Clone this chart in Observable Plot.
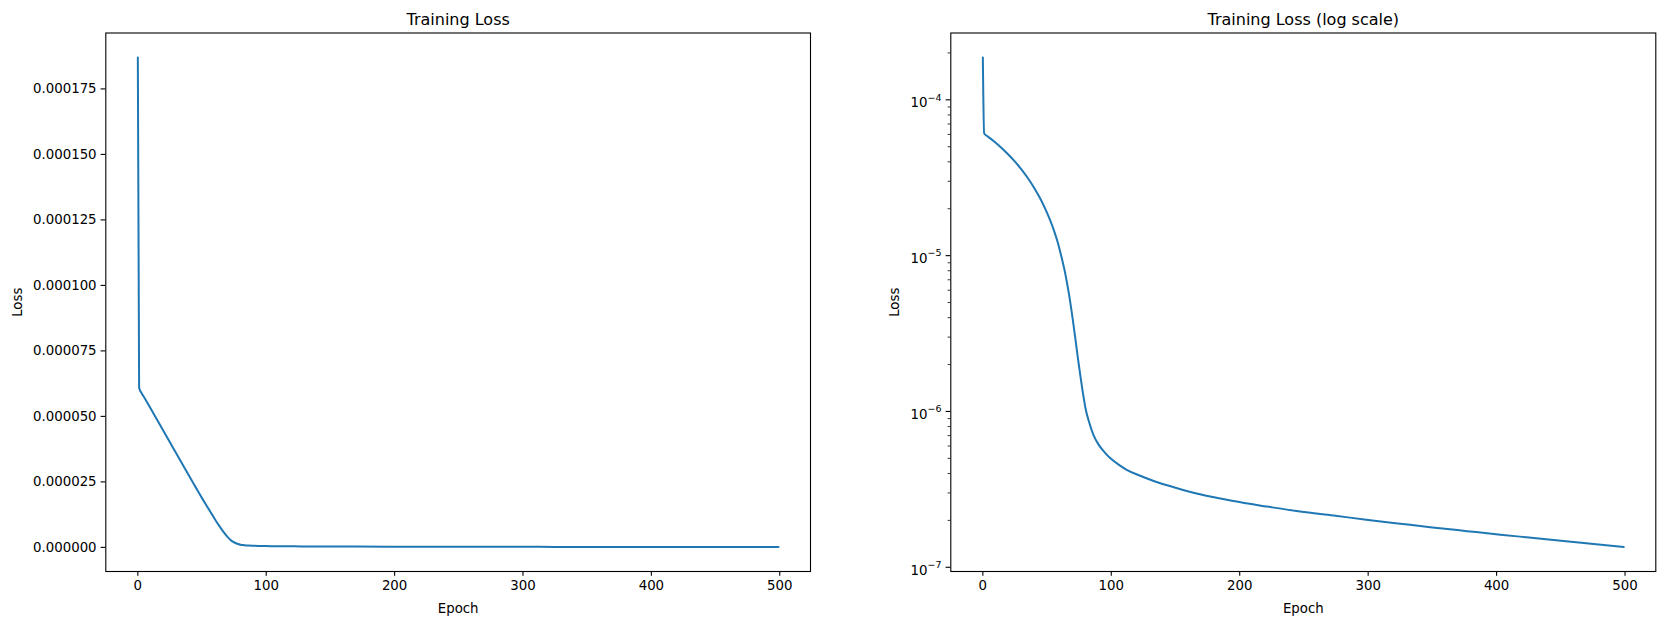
<!DOCTYPE html>
<html><head><meta charset="utf-8">
<script src="https://cdn.jsdelivr.net/npm/d3@7"></script>
<script src="https://cdn.jsdelivr.net/npm/@observablehq/plot@0.6"></script>
<style>
html,body{margin:0;padding:0;background:#fff;}
#wrap{display:flex;width:1665px;height:624px;}
#wrap svg{display:block;}
</style></head><body><div id="wrap"></div>
<script>
// Values
const epochs = [0, 1, 3, 5, 10, 15, 20, 25, 30, 35, 40, 45, 50, 55, 58, 61, 64, 67, 70, 72, 74, 76, 78, 80, 83, 86, 90, 95, 100, 106, 112, 122, 133, 150, 169, 195, 221, 247, 273, 300, 325, 350, 377, 403, 429, 460, 499];
const losses = [1.87e-4, 6.09e-5, 5.88e-5, 5.72e-5, 5.30e-5, 4.87e-5, 4.44e-5, 4.01e-5, 3.58e-5, 3.15e-5, 2.72e-5, 2.30e-5, 1.88e-5, 1.48e-5, 1.24e-5, 1.0e-5, 7.8e-6, 5.7e-6, 3.9e-6, 2.95e-6, 2.2e-6, 1.68e-6, 1.3e-6, 1.04e-6, 8.4e-7, 7.1e-7, 6.15e-7, 5.45e-7, 4.95e-7, 4.54e-7, 4.22e-7, 3.88e-7, 3.58e-7, 3.24e-7, 2.94e-7, 2.66e-7, 2.455e-7, 2.278e-7, 2.148e-7, 2.014e-7, 1.905e-7, 1.803e-7, 1.706e-7, 1.618e-7, 1.542e-7, 1.452e-7, 1.349e-7];
const xTicks = [0, 100, 200, 300, 400, 500];
const linTicks = [0, 2.5e-5, 5e-5, 7.5e-5, 1e-4, 1.25e-4, 1.5e-4, 1.75e-4];
const logTicks = [1e-7, 1e-6, 1e-5, 1e-4];
const titles = ["Training Loss", "Training Loss (log scale)"];
const xLabel = "Epoch";
const yLabel = "Loss";

const data = epochs.map((e, i) => ({epoch: e, loss: losses[i]}));

// matplotlib-like 5% margins
const xMin = d3.min(epochs), xMax = d3.max(epochs);
const xPad = (xMax - xMin) * 0.05;
const xDomain = [xMin - xPad, xMax + xPad];
const yMin = d3.min(losses), yMax = d3.max(losses);
const yPad = (yMax - yMin) * 0.05;
const linDomain = [yMin - yPad, yMax + yPad];
const lMin = Math.log10(yMin), lMax = Math.log10(yMax);
const lPad = (lMax - lMin) * 0.05;
const logDomain = [Math.pow(10, lMin - lPad), Math.pow(10, lMax + lPad)];

const minorTicks = [];
for (let k = -8; k <= -3; k++) for (let m = 2; m <= 9; m++) {
  const v = m * Math.pow(10, k);
  if (v >= logDomain[0] && v <= logDomain[1]) minorTicks.push(v);
}

const logFmt = d => "10^" + Math.round(Math.log10(d));

const font = "DejaVu Sans, Liberation Sans, sans-serif";
const common = {
  height: 624,
  marginTop: 32.5,
  marginBottom: 53,
  style: {fontFamily: font, fontSize: "13.33px", color: "black", background: "white"}
};

function panel(which) {
  const isLog = which === 1;
  const width = isLog ? 833 : 832;
  const marginLeft = isLog ? 118.3 : 105.3;
  const marginRight = isLog ? 9.7 : 22;
  const marks = [
    Plot.line(data, {x: "epoch", y: "loss", stroke: "#1f77b4", strokeWidth: 2, curve: "monotone-x"}),
    Plot.frame({stroke: "black", strokeWidth: 1.1}),
    Plot.axisX({ticks: xTicks, tickSize: 4.7, tickPadding: 4.5, label: null, tickFormat: d3.format("d"), strokeWidth: 1.1}),
    isLog
      ? Plot.axisY({ticks: logTicks, tickSize: 4.7, tickPadding: 4.5, label: null, tickFormat: logFmt, strokeWidth: 1.1})
      : Plot.axisY({ticks: linTicks, tickSize: 4.7, tickPadding: 4.5, label: null, tickFormat: d3.format(".6f"), strokeWidth: 1.1}),
    Plot.text([titles[which]], {frameAnchor: "top", lineAnchor: "middle", dy: -13.5, fontSize: 16, fill: "black"}),
    Plot.text([xLabel], {frameAnchor: "bottom", lineAnchor: "middle", dy: 37, fill: "black"}),
    Plot.text([yLabel], {frameAnchor: "left", textAnchor: "middle", lineAnchor: "middle", rotate: -90, dx: isLog ? -56 : -88.5, fill: "black"})
  ];
  if (isLog) marks.push(Plot.axisY({ticks: minorTicks, tickSize: 2.7, tickFormat: () => "", label: null, strokeWidth: 0.8}));
  return Plot.plot({
    ...common,
    width, marginLeft, marginRight,
    x: {domain: xDomain},
    y: isLog ? {type: "log", domain: logDomain} : {domain: linDomain},
    marks
  });
}

const wrap = document.getElementById("wrap");
wrap.appendChild(panel(0));
const logSvg = panel(1);
wrap.appendChild(logSvg);

// render "10^k" labels with a real superscript
logSvg.querySelectorAll("text").forEach(t => {
  const m = /^10\^(-?\d+)$/.exec(t.textContent);
  if (!m) return;
  t.textContent = "";
  const base = document.createElementNS("http://www.w3.org/2000/svg", "tspan");
  base.setAttribute("dy", "3");
  base.textContent = "10";
  const ex = document.createElementNS("http://www.w3.org/2000/svg", "tspan");
  ex.setAttribute("dy", "-6.5");
  ex.setAttribute("font-size", "9.5px");
  ex.textContent = m[1].replace("-", "\u2212");
  t.appendChild(base);
  t.appendChild(ex);
});
</script>
</body></html>
